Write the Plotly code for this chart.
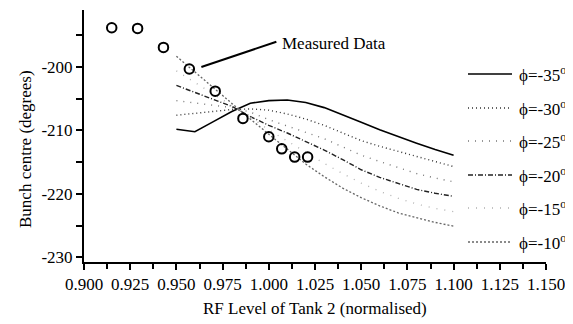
import plotly.graph_objects as go

# ---------------- data ----------------
meas_x = [0.915, 0.929, 0.943, 0.957, 0.971, 0.986, 1.000, 1.007, 1.014, 1.021]
meas_y = [-193.8, -193.9, -196.9, -200.3, -203.8, -208.1, -211.0, -212.9, -214.2, -214.2]

rf = [0.95, 0.96, 0.97, 0.98, 0.99, 1.00, 1.01, 1.02, 1.03, 1.04, 1.05, 1.06, 1.07, 1.08, 1.09, 1.10]

phi_m35 = [-209.8, -210.2, -208.6, -207.0, -205.7, -205.3, -205.2, -205.6, -206.4, -207.5, -208.7, -209.9, -211.0, -212.0, -213.0, -213.9]
phi_m30 = [-207.6, -207.3, -207.0, -206.7, -206.6, -206.8, -207.4, -208.2, -209.2, -210.4, -211.6, -212.5, -213.3, -214.1, -214.9, -215.7]
phi_m25 = [-205.3, -205.7, -206.0, -206.4, -207.1, -208.3, -209.3, -210.3, -211.3, -212.6, -213.9, -214.9, -215.9, -216.8, -217.5, -218.1]
phi_m20 = [-202.9, -204.0, -205.1, -206.2, -207.8, -209.2, -210.4, -211.7, -213.1, -214.6, -216.2, -217.4, -218.4, -219.3, -219.9, -220.4]
phi_m15 = [-200.6, -202.4, -204.2, -206.0, -207.9, -209.9, -211.7, -213.5, -215.2, -216.8, -218.3, -219.6, -220.7, -221.6, -222.3, -222.8]
phi_m10 = [-198.3, -200.8, -203.3, -205.8, -208.2, -210.6, -213.0, -215.3, -217.3, -219.1, -220.6, -221.9, -223.0, -223.8, -224.5, -225.1]

series_labels = ["-35", "-30", "-25", "-20", "-15", "-10"]
series_values = [phi_m35, phi_m30, phi_m25, phi_m20, phi_m15, phi_m10]

x_ticks = [0.900, 0.925, 0.950, 0.975, 1.000, 1.025, 1.050, 1.075, 1.100, 1.125, 1.150]
y_ticks = [-200, -210, -220, -230]
y_tick_labels = ["-200", "-210", "-220", "-230"]

# ---------------- styles ----------------
styles = [
    dict(color="#000000", dash="solid", width=1.6),
    dict(color="#333333", dash="1px,3px", width=1.4),
    dict(color="#777777", dash="1px,6px", width=1.4),
    dict(color="#222222", dash="5px,2px,1px,2px", width=1.4),
    dict(color="#b0b0b0", dash="1px,7px", width=1.3),
    dict(color="#666666", dash="2px,2px", width=1.3),
]

FONT = "Liberation Serif, Times New Roman, serif"

# page body has an 8px default margin; layout below compensates for it
L, T, PW, PH = 76, 2, 462, 252
W, H = 573, 324

fig = go.Figure()

for lab, vals, st in zip(series_labels, series_values, styles):
    fig.add_trace(go.Scatter(x=rf, y=vals, mode="lines", line=st,
                             name=lab, showlegend=False, hoverinfo="skip"))

fig.add_trace(go.Scatter(x=meas_x, y=meas_y, mode="markers",
                         marker=dict(symbol="circle-open", size=9.5, color="black",
                                     line=dict(width=2, color="black")),
                         showlegend=False))

# ---------------- manual legend ----------------
leg_rows_px = [74, 108, 141, 175, 208, 242]   # screen px
shapes = []
annotations = []
def px_x(sx):
    return (sx - 8 - L) / PW
def px_y(sy):
    return (T + PH - (sy - 8)) / PH

for lab, st, py in zip(series_labels, styles, leg_rows_px):
    yp = px_y(py)
    shapes.append(dict(type="line", xref="paper", yref="paper",
                       x0=px_x(468), x1=px_x(512), y0=yp, y1=yp, line=st))
    annotations.append(dict(xref="paper", yref="paper", x=px_x(517), y=yp,
                            xanchor="left", yanchor="middle", showarrow=False,
                            text="ϕ=" + lab + "<sup>o</sup>",
                            font=dict(family=FONT, size=17, color="black")))

# Measured data callout
shapes.append(dict(type="line", xref="x", yref="y", x0=0.9635, y0=-200.0,
                   x1=1.0041, y1=-196.0, line=dict(color="black", width=2)))
annotations.append(dict(xref="x", yref="y", x=1.0058, y=-196.3, xanchor="left",
                        yanchor="middle", showarrow=False, text="Measured Data",
                        font=dict(family=FONT, size=17, color="black")))

# axis titles
annotations.append(dict(xref="paper", yref="paper", x=px_x(25), y=px_y(149),
                        xanchor="center", yanchor="middle", showarrow=False,
                        textangle=-90, text="Bunch centre (degrees)",
                        font=dict(family=FONT, size=17, color="black")))
annotations.append(dict(xref="paper", yref="paper", x=px_x(315), y=px_y(308),
                        xanchor="center", yanchor="middle", showarrow=False,
                        text="RF Level of Tank 2 (normalised)",
                        font=dict(family=FONT, size=17, color="black")))

fig.update_layout(
    width=W, height=H,
    margin=dict(l=L, r=W - L - PW, t=T, b=H - T - PH, pad=0),
    paper_bgcolor="white", plot_bgcolor="white",
    font=dict(family=FONT, size=17, color="black"),
    shapes=shapes, annotations=annotations,
    showlegend=False,
)

fig.update_xaxes(range=[0.9, 1.15], tickvals=x_ticks,
                 ticktext=[f"{v:.3f}" for v in x_ticks],
                 ticks="outside", ticklen=6, tickwidth=2, tickcolor="black",
                 minor=dict(dtick=0.0125, tick0=0.9, ticks="outside", ticklen=5,
                            tickwidth=2, tickcolor="black"),
                 showline=True, linecolor="black", linewidth=2,
                 showgrid=False, zeroline=False, automargin=False,
                 tickfont=dict(family=FONT, size=17, color="black"))

fig.update_yaxes(range=[-230.75, -191.0], tickvals=y_ticks, ticktext=y_tick_labels,
                 ticks="outside", ticklen=6, tickwidth=2, tickcolor="black",
                 minor=dict(dtick=5, tick0=-200, ticks="outside", ticklen=6,
                            tickwidth=2, tickcolor="black"),
                 showline=True, linecolor="black", linewidth=2,
                 showgrid=False, zeroline=False, automargin=False,
                 tickfont=dict(family=FONT, size=17, color="black"))

fig.write_html("out.html")
